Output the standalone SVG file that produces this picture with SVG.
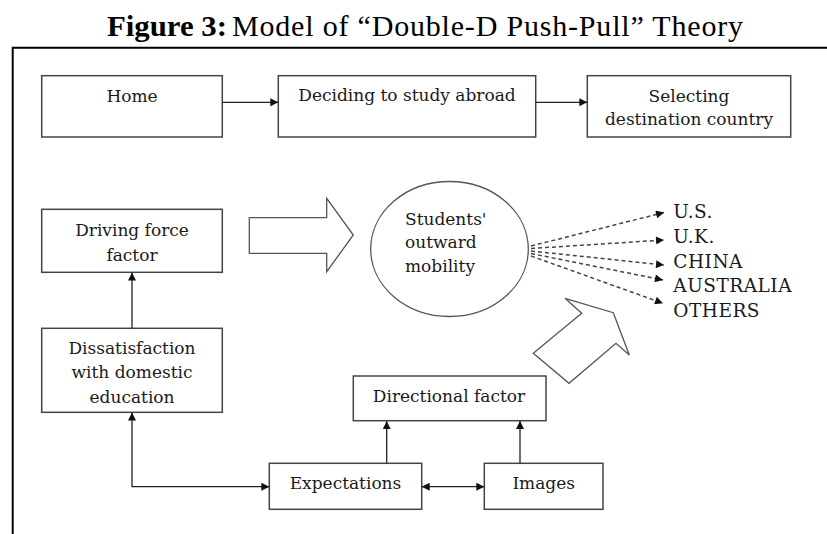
<svg xmlns="http://www.w3.org/2000/svg" width="827" height="534" viewBox="0 0 827 534">
<defs>
<style>
.box{fill:#fff;stroke:#444;stroke-width:1.5}
.lbl{font-family:"DejaVu Serif","Liberation Serif",serif;font-size:17px;fill:#1a1a1a;text-anchor:middle}
.lft{text-anchor:start}
.dst{font-size:18.5px;letter-spacing:0.5px}
.con{fill:none;stroke:#222;stroke-width:1.3}
.dash{fill:none;stroke:#444;stroke-width:1.5;stroke-dasharray:4 3}
.hollow{fill:#fff;stroke:#555;stroke-width:1.3;stroke-linejoin:miter}
.title{font-family:"Liberation Serif",serif;font-size:30px;fill:#000}
</style>
<marker id="ah" viewBox="0 0 10 10" refX="10" refY="5" markerWidth="9" markerHeight="8" markerUnits="userSpaceOnUse" orient="auto-start-reverse">
<path d="M0,0 L10,5 L0,10 Z" fill="#111"/>
</marker>
</defs>
<rect width="827" height="534" fill="#fff"/>
<g id="title">
<text class="title" x="107" y="36" font-weight="bold" textLength="120" lengthAdjust="spacingAndGlyphs">Figure 3:</text>
<text class="title" x="232" y="36" textLength="511" lengthAdjust="spacing">Model of “Double-D Push-Pull” Theory</text>
</g>
<g id="frame">
<path d="M12.7,534 V47.7 H827" fill="none" stroke="#000" stroke-width="2"/>
</g>
<g id="home">
<rect class="box" x="41.7" y="75.7" width="180.6" height="61.3"/>
<text class="lbl" x="132" y="101.7">Home</text>
</g>
<g id="deciding">
<rect class="box" x="278.3" y="75.7" width="257.4" height="61.3"/>
<text class="lbl" x="407" y="100.5">Deciding to study abroad</text>
</g>
<g id="selecting">
<rect class="box" x="587.3" y="75.7" width="203.4" height="61.3"/>
<text class="lbl" x="689" y="101.7">Selecting</text>
<text class="lbl" x="689" y="125">destination country</text>
</g>
<g id="driving">
<rect class="box" x="41.7" y="209.3" width="180.6" height="63"/>
<text class="lbl" x="132" y="236">Driving force</text>
<text class="lbl" x="132" y="261">factor</text>
</g>
<g id="dissatisfaction">
<rect class="box" x="41.7" y="328.3" width="180.6" height="84"/>
<text class="lbl" x="132" y="353.5">Dissatisfaction</text>
<text class="lbl" x="132" y="378">with domestic</text>
<text class="lbl" x="132" y="403">education</text>
</g>
<g id="students">
<ellipse cx="449.5" cy="249" rx="78.8" ry="67.5" fill="#fff" stroke="#555" stroke-width="1.3"/>
<text class="lbl lft" x="405" y="225">Students'</text>
<text class="lbl lft" x="405" y="248">outward</text>
<text class="lbl lft" x="405" y="271.7">mobility</text>
</g>
<g id="directional">
<rect class="box" x="353.3" y="376" width="192.7" height="44.7"/>
<text class="lbl" x="449" y="402.3">Directional factor</text>
</g>
<g id="expectations">
<rect class="box" x="269.3" y="463.3" width="152.4" height="46"/>
<text class="lbl" x="345.5" y="489.3">Expectations</text>
</g>
<g id="images">
<rect class="box" x="484.3" y="463.3" width="118.7" height="46"/>
<text class="lbl" x="543.7" y="489.3">Images</text>
</g>
<g id="push-arrow">
<polygon class="hollow" points="249.3,217.7 326.7,217.7 326.7,198.3 353.3,235 326.7,271.7 326.7,253.3 249.3,253.3"/>
</g>
<g id="pull-arrow">
<polygon class="hollow" points="533.3,353.3 581.7,313.3 565,298.3 613.3,312.7 629.3,355 616,343.3 569,383.3"/>
</g>
<g id="destinations">
<text class="lbl lft dst" x="673.3" y="218.3">U.S.</text>
<text class="lbl lft dst" x="673.3" y="243.3">U.K.</text>
<text class="lbl lft dst" x="673.3" y="268">CHINA</text>
<text class="lbl lft dst" x="673.3" y="292.2">AUSTRALIA</text>
<text class="lbl lft dst" x="673.3" y="317">OTHERS</text>
</g>
<g id="connectors">
<line class="con" x1="222.3" y1="102.3" x2="278.3" y2="102.3" marker-end="url(#ah)"/>
<line class="con" x1="535.7" y1="102.3" x2="587.3" y2="102.3" marker-end="url(#ah)"/>
<line class="con" x1="132" y1="328.3" x2="132" y2="272.5" marker-end="url(#ah)"/>
<path class="con" d="M132,412.5 V486.7 H269.3" marker-start="url(#ah)" marker-end="url(#ah)"/>
<line class="con" x1="386.7" y1="463.3" x2="386.7" y2="421" marker-end="url(#ah)"/>
<line class="con" x1="520" y1="463.3" x2="520" y2="421" marker-end="url(#ah)"/>
<line class="con" x1="421.7" y1="486.7" x2="484.3" y2="486.7" marker-start="url(#ah)" marker-end="url(#ah)"/>
<line class="dash" x1="531" y1="246" x2="664" y2="212.5" marker-end="url(#ah)"/>
<line class="dash" x1="531" y1="248.5" x2="664" y2="240" marker-end="url(#ah)"/>
<line class="dash" x1="531" y1="251" x2="664" y2="265" marker-end="url(#ah)"/>
<line class="dash" x1="531" y1="253.5" x2="663" y2="280" marker-end="url(#ah)"/>
<line class="dash" x1="531" y1="256" x2="663" y2="303.3" marker-end="url(#ah)"/>
</g>
</svg>
